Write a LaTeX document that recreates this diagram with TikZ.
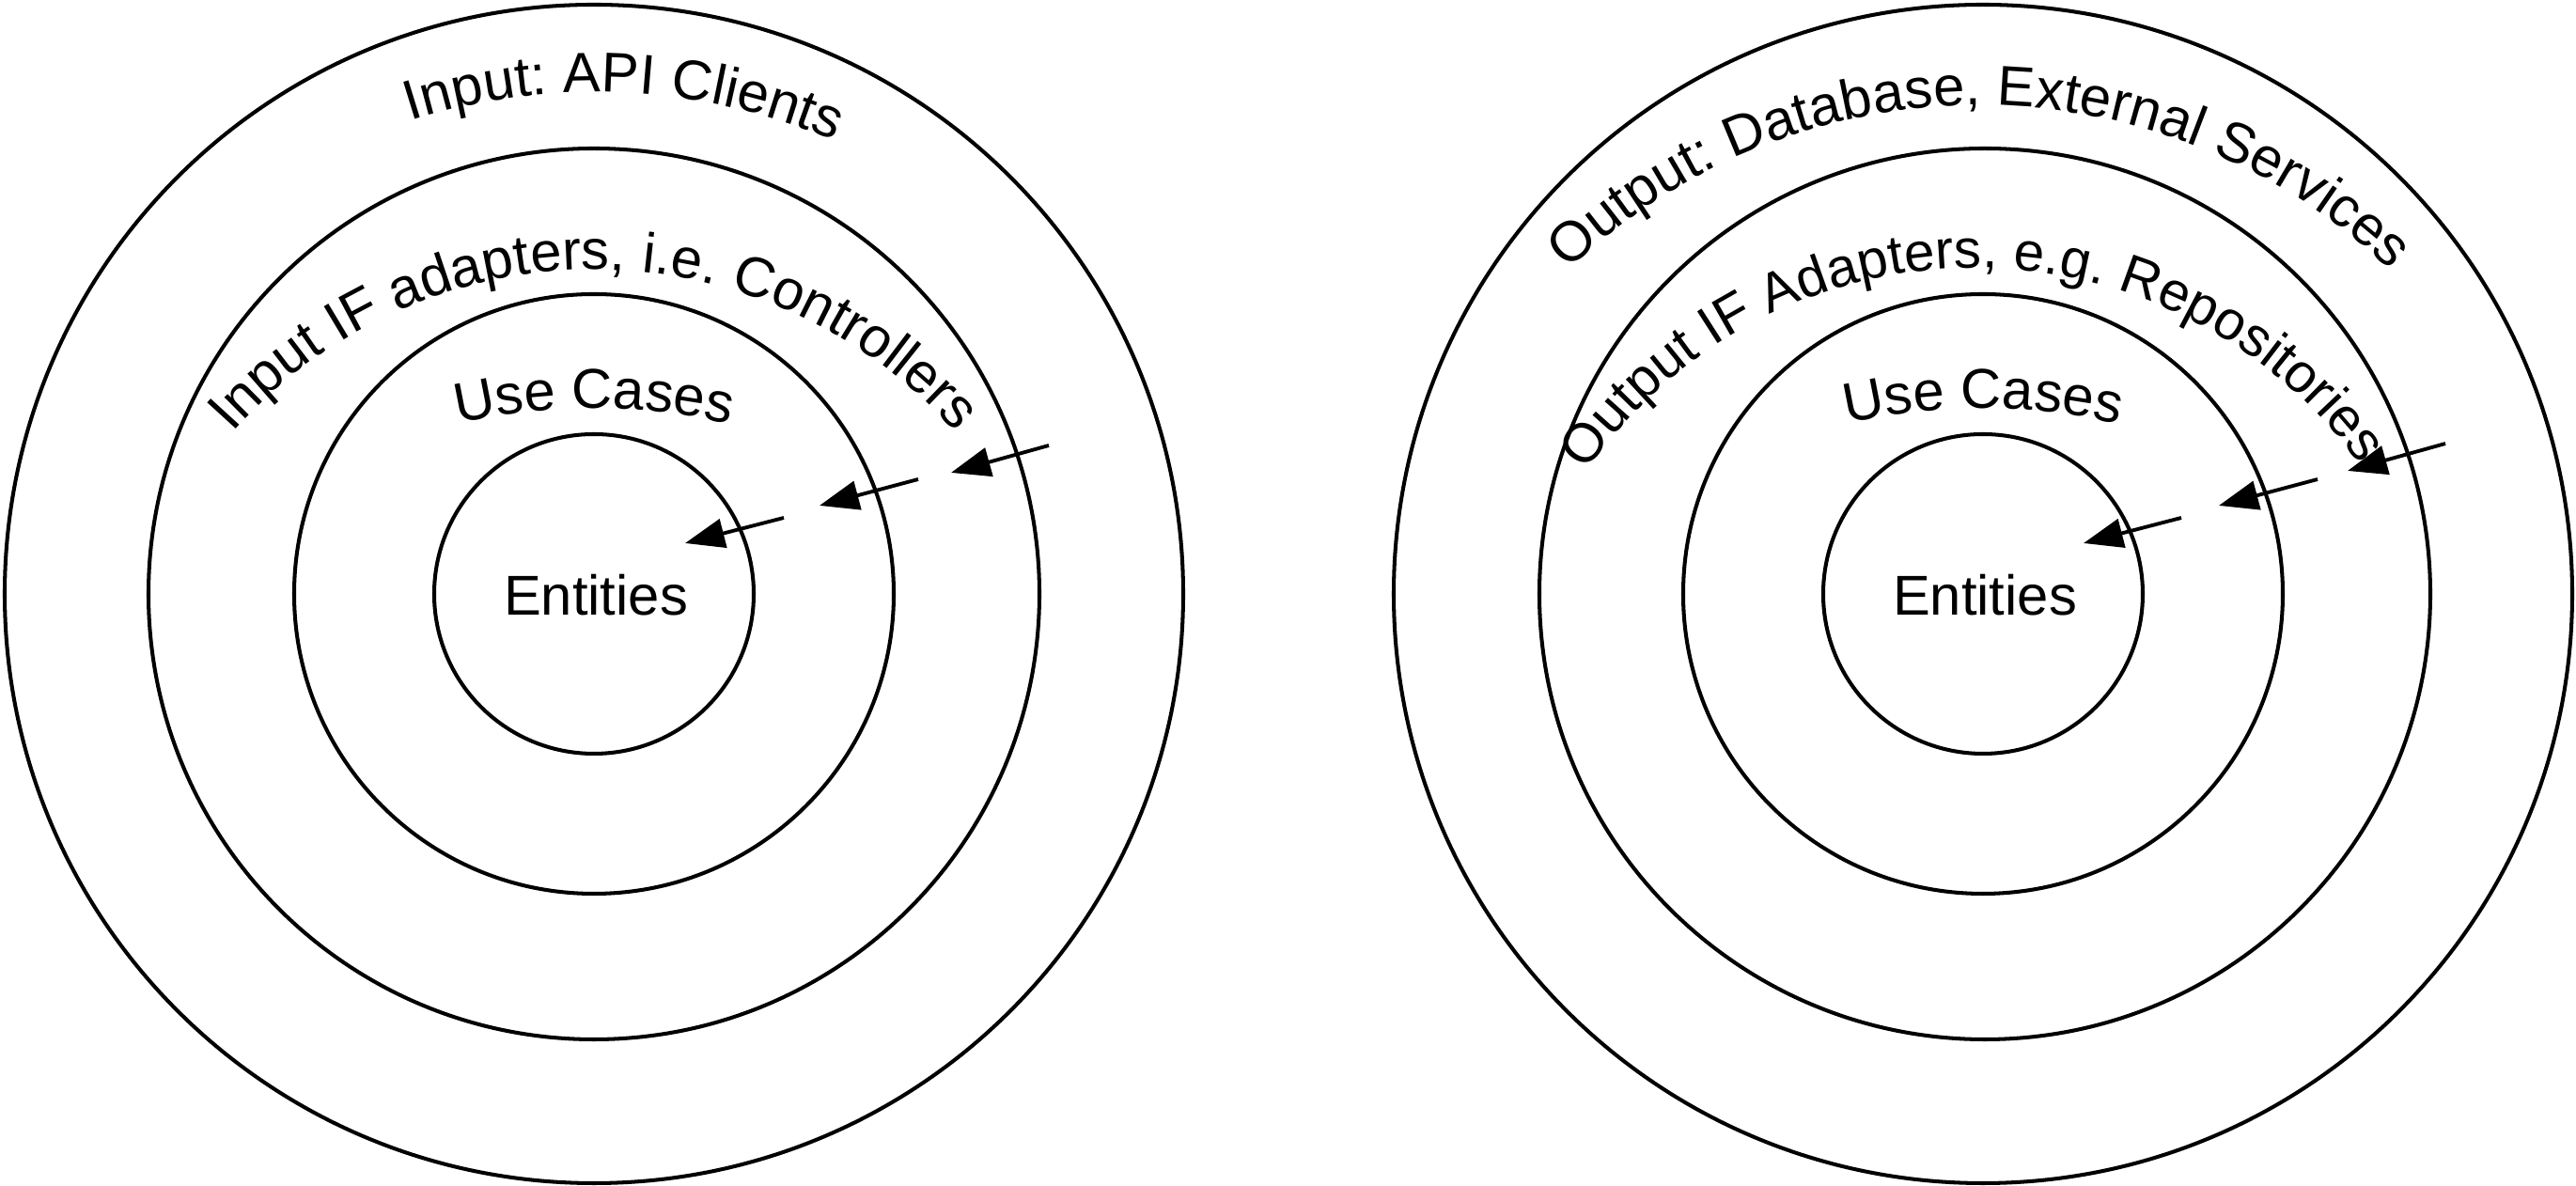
\documentclass[tikz,border=0pt]{standalone}
\usepackage{fontspec}
\setmainfont{Liberation Sans}
\usetikzlibrary{arrows.meta,decorations.text}
\newcommand{\labelfont}{\fontsize{17}{20}\selectfont}
\newcommand{\smalllabelfont}{\fontsize{16.6}{20}\selectfont}
\newcommand{\myarclabel}[6][\labelfont]{%
  \path[decorate, decoration={text along path, text align=center, text={|#1|#6}}]
    ([shift={({#5+75}:#4cm)}]#2,#3) arc[start angle={#5+75}, end angle={#5-75}, radius=#4cm];
}
\tikzset{
  ring/.style={draw=black, line width=1.15pt},
  flow/.style={draw=black, line width=1.1pt, -{Triangle[length=0.42cm, width=0.31cm]}},
  core/.style={font=\labelfont, inner sep=0pt}
}
\begin{document}
\begin{tikzpicture}
\fill[white] (0,0) rectangle (27.41,12.62);
\useasboundingbox (0,0) rectangle (27.41,12.62);

% left diagram
\draw[ring] (6.32,6.30) circle[radius=6.27cm];
\draw[ring] (6.32,6.30) circle[radius=4.74cm];
\draw[ring] (6.32,6.30) circle[radius=3.19cm];
\draw[ring] (6.32,6.30) circle[radius=1.70cm];
\node[core] (entL) at (6.34,6.29) {Entities};
\myarclabel{6.34}{5.19}{6.45}{87.3}{Input: API Clients}
\myarclabel{6.32}{4.62}{5.13}{90}{Input IF adapters, i.e. Controllers}
\myarclabel{6.32}{1.77}{6.50}{90}{Use Cases}

\coordinate (la1) at (8.34,7.11);  \coordinate (lb1) at (7.29,6.84);
\coordinate (la2) at (9.77,7.52);  \coordinate (lb2) at (8.72,7.24);
\coordinate (la3) at (11.16,7.88); \coordinate (lb3) at (10.12,7.59);
\draw[flow] (la1) -- (lb1);
\draw[flow] (la2) -- (lb2);
\draw[flow] (la3) -- (lb3);

% right diagram
\draw[ring] (21.10,6.30) circle[radius=6.27cm];
\draw[ring] (21.12,6.30) circle[radius=4.74cm];
\draw[ring] (21.10,6.30) circle[radius=3.19cm];
\draw[ring] (21.10,6.30) circle[radius=1.70cm];
\node[core] (entR) at (21.12,6.29) {Entities};
\myarclabel{21.06}{5.18}{6.32}{90}{Output: Database, External Services}
\myarclabel[\smalllabelfont]{21.02}{4.74}{5.03}{90.5}{Output IF Adapters, e.g. Repositories}
\myarclabel{21.10}{1.77}{6.50}{90}{Use Cases}

\coordinate (ra1) at (23.21,7.11); \coordinate (rb1) at (22.17,6.84);
\coordinate (ra2) at (24.66,7.52); \coordinate (rb2) at (23.61,7.24);
\coordinate (ra3) at (26.02,7.90); \coordinate (rb3) at (24.98,7.61);
\draw[flow] (ra1) -- (rb1);
\draw[flow] (ra2) -- (rb2);
\draw[flow] (ra3) -- (rb3);
\end{tikzpicture}
\end{document}
